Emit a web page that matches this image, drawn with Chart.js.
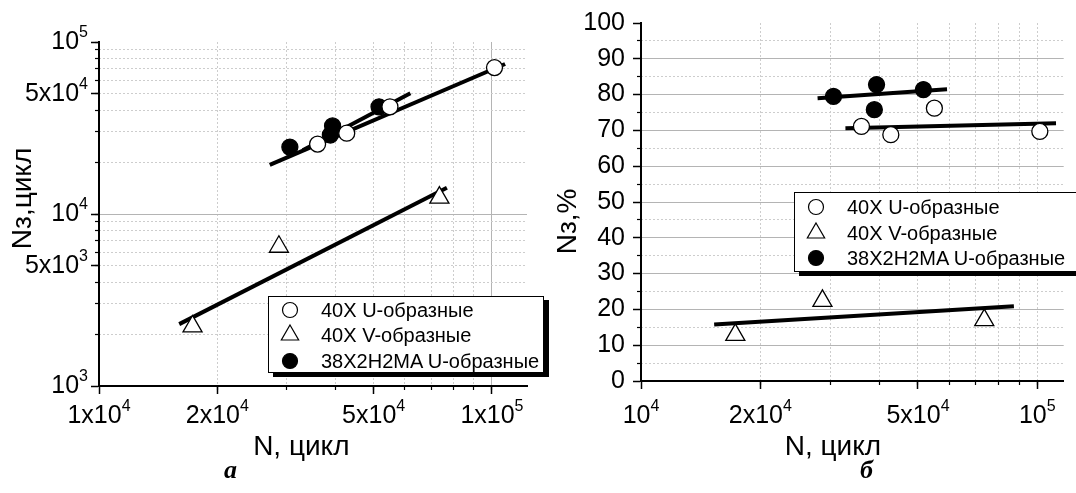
<!DOCTYPE html>
<html>
<head>
<meta charset="utf-8">
<script src="https://cdn.jsdelivr.net/npm/chart.js@4.4.0/dist/chart.umd.min.js"></script>
<style>
  body { margin: 0; width: 1076px; height: 493px; overflow: hidden; background: #fff; position: relative; font-family: 'Liberation Sans', Arial, sans-serif; }
  canvas { position: absolute; top: 0; }
  #chartA { left: 0; }
  #chartB { left: 540px; }
  .legend { position: absolute; box-sizing: border-box; background: #fff; border: 1px solid #000; box-shadow: 5px 4px 0 #000; font-size: 20px; color: #000; white-space: nowrap; overflow: hidden; }
  .legend span { position: absolute; line-height: 24px; }
  .legend svg { position: absolute; }
  .panel { position: absolute; font: italic bold 26px 'Liberation Serif', serif; line-height: 26px; }
</style>
</head>
<body>
<canvas id="chartA" width="540" height="493"></canvas>
<canvas id="chartB" width="536" height="493"></canvas>
<div class="legend" id="legendA" style="left:268px;top:296px;width:276px;height:77px"></div>
<div class="legend" id="legendB" style="left:794px;top:192px;width:320px;height:80px"></div>
<div class="panel" style="left:224px;top:457px">а</div>
<div class="panel" style="left:860px;top:457px">б</div>
<script>
const seriesNames = ['40X U-образные', '40X V-образные', '38X2H2MA U-образные'];

// 40X U-образные
const nU = [3.6e4, 4.27e4, 5.5e4, 1.015e5];
const nzU = [2.55e4, 2.95e4, 4.2e4, 7.1e4];
const pctU = [71.1, 68.8, 76.2, 69.7];
// 40X V-образные
const nV = [1.73e4, 2.87e4, 7.35e4];
const nzV = [2.22e3, 6.45e3, 1.245e4];
const pctV = [12.9, 22.4, 17.0];
// 38X2H2MA U-образные
const nM = [3.06e4, 3.93e4, 3.88e4, 5.16e4];
const nzM = [2.45e4, 3.25e4, 2.88e4, 4.2e4];
const pctM = [79.5, 82.8, 75.8, 81.4];

// fitted lines, end points (a)
const fitAUx = [2.72e4, 1.08e5], fitAUy = [1.93e4, 7.45e4];
const fitAMx = [3.3e4, 6.2e4], fitAMy = [2.35e4, 5.03e4];
const fitAVx = [1.6e4, 7.68e4], fitAVy = [2.29e3, 1.42e4];
// fitted lines, end points (б)
const fitBUx = [3.28e4, 1.115e5], fitBUy = [70.6, 72.0];
const fitBMx = [2.79e4, 5.92e4], fitBMy = [79.0, 81.5];
const fitBVx = [1.53e4, 8.73e4], fitBVy = [15.8, 20.9];

const xTicks = [1e4, 2e4, 5e4, 1e5];
const xLabelsA = ['1x10⁴', '2x10⁴', '5x10⁴', '1x10⁵'];
const xLabelsB = ['10⁴', '2x10⁴', '5x10⁴', '10⁵'];
const yTicksA = [1e3, 5e3, 1e4, 5e4, 1e5];
const yLabelsA = ['10³', '5x10³', '10⁴', '5x10⁴', '10⁵'];

const FONT = "'Liberation Sans', Arial, sans-serif";
const TICK_SIZE = 25, EXP_SIZE = 16, TITLE_SIZE = 28;
const GRID_MAJOR = '#b4b4b4';
const GRID_MINOR = '#cdcdcd';
const NONE = 'rgba(0,0,0,0)';
const SUP = '⁰¹²³⁴⁵⁶⁷⁸⁹';

const pts = (xs, ys) => xs.map((x, i) => ({x: x, y: ys[i]}));
const isPow10 = v => Math.abs(Math.log10(v) - Math.round(Math.log10(v))) < 1e-9;

function logGrid(min, max) {
    const out = [];
    for (let e = Math.floor(Math.log10(min)); e <= Math.ceil(Math.log10(max)); e++) {
        for (let m = 1; m < 10; m++) {
            const v = m * Math.pow(10, e);
            if (v > min * 1.0001 && v <= max) out.push(v);
        }
    }
    return out;
}

// split '5x10⁴' into base '5x10' and exponent '4'
function splitSup(label) {
    let base = '', exp = '';
    for (const ch of label) {
        const k = SUP.indexOf(ch);
        if (k >= 0) exp += k; else base += ch;
    }
    return [base, exp];
}

// tick labels with a real raised exponent, placed by the axis scale
const supLabels = {
    id: 'supLabels',
    afterDraw(chart, args, opts) {
        const ctx = chart.ctx;
        ctx.save();
        ctx.fillStyle = '#000';
        ctx.textAlign = 'left';
        ctx.textBaseline = 'middle';
        opts.axes.forEach(a => {
            const scale = chart.scales[a.id];
            a.values.forEach((v, i) => {
                const [base, exp] = splitSup(a.labels[i]);
                ctx.font = TICK_SIZE + 'px ' + FONT;
                const wb = ctx.measureText(base).width;
                ctx.font = EXP_SIZE + 'px ' + FONT;
                const we = ctx.measureText(exp).width;
                let x, y;
                if (scale.isHorizontal()) {
                    x = scale.getPixelForValue(v) - (wb + we) / 2;
                    y = scale.top + a.offset;
                } else {
                    x = scale.right - a.offset - wb - we;
                    y = scale.getPixelForValue(v);
                }
                ctx.font = TICK_SIZE + 'px ' + FONT;
                ctx.fillText(base, x, y);
                ctx.font = EXP_SIZE + 'px ' + FONT;
                ctx.fillText(exp, x + wb, y - 9);
            });
        });
        ctx.restore();
    }
};

function markers(label, xs, ys, style, fill, r) {
    return {
        label: label, data: pts(xs, ys), showLine: false, order: 0,
        pointStyle: style, pointRadius: r, pointHoverRadius: r,
        pointBackgroundColor: fill, pointBorderColor: '#000', pointBorderWidth: 1.3
    };
}

function fitLine(xs, ys) {
    return { data: pts(xs, ys), showLine: true, order: 1, borderColor: '#000', borderWidth: 4, pointRadius: 0, pointHoverRadius: 0 };
}

function title(text, top, bottom) {
    return { display: true, text: text, color: '#000', font: { family: FONT, size: TITLE_SIZE }, padding: { top: top, bottom: bottom } };
}

function majorGrid(colorFn) {
    return { color: c => c.tick ? colorFn(c.tick.value) : NONE, tickColor: '#000', tickLength: 8, tickWidth: 1.5 };
}

function minorAxis(pos, type, min, max, vals, colorFn) {
    return {
        type: type, position: pos, min: min, max: max, weight: 0,
        afterBuildTicks: s => { s.ticks = vals.map(v => ({ value: v })); },
        afterFit: s => { if (pos === 'bottom') s.height = 0; else s.width = 0; },
        ticks: { display: false, autoSkip: false },
        grid: { color: c => c.tick ? colorFn(c.tick.value) : NONE, tickColor: '#000', tickLength: 4, tickWidth: 1.2 },
        border: { display: false, dash: [2, 2] }
    };
}

const baseOptions = {
    responsive: false,
    animation: false,
    devicePixelRatio: 1
};

// ---- panel а ----
const xMaxA = 1.228e5;
new Chart(document.getElementById('chartA'), {
    type: 'scatter',
    plugins: [supLabels],
    data: {
        datasets: [
            markers(seriesNames[0], nU, nzU, 'circle', '#fff', 8),
            markers(seriesNames[1], nV, nzV, 'triangle', '#fff', 11),
            markers(seriesNames[2], nM, nzM, 'circle', '#000', 8),
            fitLine(fitAUx, fitAUy),
            fitLine(fitAMx, fitAMy),
            fitLine(fitAVx, fitAVy)
        ]
    },
    options: {
        ...baseOptions,
        layout: { padding: { top: 42, right: 13, left: 0, bottom: 0 } },
        plugins: {
            legend: { display: false },
            tooltip: { enabled: false },
            supLabels: { axes: [
                { id: 'x', values: xTicks, labels: xLabelsA, offset: 30 },
                { id: 'y', values: yTicksA, labels: yLabelsA, offset: 11 }
            ] }
        },
        scales: {
            x: {
                type: 'logarithmic', position: 'bottom', min: 1e4, max: xMaxA, weight: 1,
                afterBuildTicks: s => { s.ticks = xTicks.map(v => ({ value: v })); },
                afterFit: s => { s.height = 107; },
                ticks: { display: false, autoSkip: false },
                grid: majorGrid(v => v === 1e5 ? GRID_MAJOR : NONE),
                border: { color: '#000', width: 2 },
                title: title('N, цикл   ', 0, 29)
            },
            xm: minorAxis('bottom', 'logarithmic', 1e4, xMaxA, logGrid(1e4, xMaxA), v => isPow10(v) ? NONE : GRID_MINOR),
            y: {
                type: 'logarithmic', position: 'left', min: 1e3, max: 1e5, weight: 1,
                afterBuildTicks: s => { s.ticks = yTicksA.map(v => ({ value: v })); },
                afterFit: s => { s.width = 99; },
                ticks: { display: false, autoSkip: false },
                grid: majorGrid(v => v === 1e4 ? GRID_MAJOR : NONE),
                border: { color: '#000', width: 2 },
                title: title('    Nз,цикл', 6, 0)
            },
            ym: minorAxis('left', 'logarithmic', 1e3, 1e5, logGrid(1e3, 1e5), v => isPow10(v) ? NONE : GRID_MINOR)
        }
    }
});

// ---- panel б ----
const xMaxB = 1.166e5;
new Chart(document.getElementById('chartB'), {
    type: 'scatter',
    plugins: [supLabels],
    data: {
        datasets: [
            markers(seriesNames[0], nU, pctU, 'circle', '#fff', 8),
            markers(seriesNames[1], nV, pctV, 'triangle', '#fff', 11),
            markers(seriesNames[2], nM, pctM, 'circle', '#000', 8),
            fitLine(fitBUx, fitBUy),
            fitLine(fitBMx, fitBMy),
            fitLine(fitBVx, fitBVy)
        ]
    },
    options: {
        ...baseOptions,
        layout: { padding: { top: 23, right: 0, left: 0, bottom: 0 } },
        plugins: {
            legend: { display: false },
            tooltip: { enabled: false },
            supLabels: { axes: [
                { id: 'x', values: xTicks, labels: xLabelsB, offset: 35 }
            ] }
        },
        scales: {
            x: {
                type: 'logarithmic', position: 'bottom', min: 1e4, max: xMaxB, weight: 1,
                afterBuildTicks: s => { s.ticks = xTicks.map(v => ({ value: v })); },
                afterFit: s => { s.height = 112; },
                ticks: { display: false, autoSkip: false },
                grid: majorGrid(() => NONE),
                border: { color: '#000', width: 2 },
                title: title('N, цикл     ', 0, 29)
            },
            xm: minorAxis('bottom', 'logarithmic', 1e4, xMaxB, logGrid(1e4, xMaxB), () => GRID_MINOR),
            y: {
                type: 'linear', position: 'left', min: 0, max: 100, weight: 1,
                afterFit: s => { s.width = 101; },
                ticks: { stepSize: 10, padding: 8, color: '#000', font: { family: FONT, size: TICK_SIZE } },
                grid: majorGrid(v => v > 0 && v < 100 ? GRID_MAJOR : NONE),
                border: { color: '#000', width: 2 },
                title: title('Nз,%     ', 11, 0)
            },
            ym: minorAxis('left', 'linear', 0, 100, [5, 15, 25, 35, 45, 55, 65, 75, 85, 95], () => GRID_MINOR)
        }
    }
});

// ---- legends ----
const legendSymbols = [
    '<circle cx="12" cy="12" r="7.5" fill="#fff" stroke="#000" stroke-width="1.2"/>',
    '<polygon points="12,2 20.66,17 3.34,17" fill="#fff" stroke="#000" stroke-width="1.2"/>',
    '<circle cx="12" cy="12" r="7.5" fill="#000" stroke="#000" stroke-width="1.2"/>'
];

function buildLegend(id, rowTops) {
    const box = document.getElementById(id);
    seriesNames.forEach((name, i) => {
        const y = rowTops[i];
        box.insertAdjacentHTML('beforeend',
            `<svg width="24" height="24" style="left:9px;top:${y - 12}px">${legendSymbols[i]}</svg>` +
            `<span style="left:52px;top:${y - 12}px">${name}</span>`);
    });
}

buildLegend('legendA', [12.5, 38, 63.5]);
buildLegend('legendB', [14, 39.5, 65]);
</script>
</body>
</html>
